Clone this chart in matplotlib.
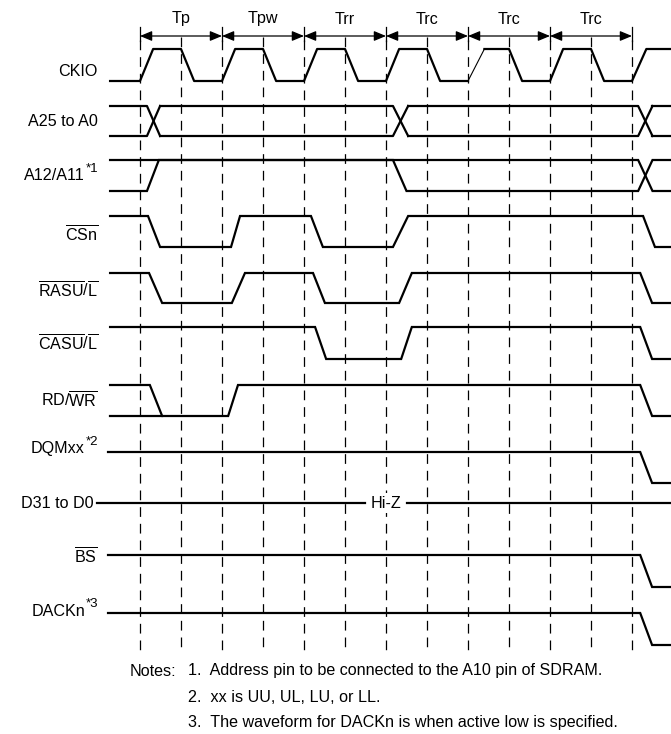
import matplotlib
matplotlib.use("Agg")
import matplotlib.pyplot as plt

plt.rcParams['font.family'] = ['Liberation Sans', 'DejaVu Sans']
plt.rcParams['mathtext.fontset'] = 'custom'
plt.rcParams['mathtext.rm'] = 'Liberation Sans'
plt.rcParams['mathtext.it'] = 'Liberation Sans:italic'
plt.rcParams['mathtext.bf'] = 'Liberation Sans:bold'
plt.rcParams['lines.scale_dashes'] = False

# ---- data: times in half clock cycles from the first rising edge ----
# cycle names and the half-cycle boundaries they span
cycle_names = ['Tp', 'Tpw', 'Trr', 'Trc', 'Trc', 'Trc']
cycle_bounds = [0, 2, 4, 6, 8, 10, 12]

# clock edges (start of each edge); edge 8 is drawn thin in the original
ckio_edges = [0, 1, 2, 3, 4, 5, 6, 7, 8, 9, 10, 11, 12]
ckio_edge_len = [0.32, 0.32, 0.32, 0.32, 0.32, 0.32, 0.32, 0.32, 0.4, 0.32, 0.32, 0.32, 0.35]
ckio_thin_edge = 8

# address bus changes (start, end)
addr_changes = [(0.17, 0.49), (6.17, 6.54), (12.15, 12.5)]

# single waveforms: list of (t, level), level 1 = high, 0 = low
t_start = -0.73
t_end = 13.1
a12_top = [(t_start, 1), (12.15, 1), (12.5, 0), (t_end, 0)]
a12_bot = [(t_start, 0), (0.17, 0), (0.46, 1), (6.17, 1), (6.5, 0), (12.15, 0), (12.5, 1), (t_end, 1)]
csn = [(t_start, 1), (0.195, 1), (0.49, 0), (2.22, 0), (2.44, 1), (4.17, 1), (4.46, 0),
       (6.17, 0), (6.54, 1), (12.27, 1), (12.56, 0), (t_end, 0)]
rasu = [(t_start, 1), (0.22, 1), (0.54, 0), (2.24, 0), (2.56, 1), (4.22, 1), (4.51, 0),
        (6.32, 0), (6.63, 1), (12.2, 1), (12.49, 0), (t_end, 0)]
casu = [(t_start, 1), (4.27, 1), (4.54, 0), (6.37, 0), (6.63, 1), (12.2, 1), (12.49, 0), (t_end, 0)]
rdwr_top = [(t_start, 1), (0.24, 1), (0.54, 0), (2.15, 0), (2.39, 1), (12.2, 1), (12.49, 0), (t_end, 0)]
rdwr_bot = [(t_start, 0), (0.54, 0)]
dqm = [(-0.78, 1), (12.2, 1), (12.49, 0), (t_end, 0)]
bs = [(-0.78, 1), (12.2, 1), (12.49, 0), (t_end, 0)]
dack = [(-0.78, 1), (12.2, 1), (12.49, 0), (t_end, 0)]
data_start = -1.05
hiz_gap = (5.49, 6.51)

labels = ['CKIO', 'A25 to A0', 'A12/A11', r'$\overline{\mathrm{CSn}}$',
          r'$\overline{\mathrm{RASU}}$/$\overline{\mathrm{L}}$',
          r'$\overline{\mathrm{CASU}}$/$\overline{\mathrm{L}}$',
          r'RD/$\overline{\mathrm{WR}}$', 'DQMxx', 'D31 to D0',
          r'$\overline{\mathrm{BS}}$', 'DACKn']
label_sups = ['', '', '*1', '', '', '', '', '*2', '', '', '*3']

notes = ['1.  Address pin to be connected to the A10 pin of SDRAM.',
         '2.  xx is UU, UL, LU, or LL.',
         '3.  The waveform for DACKn is when active low is specified.']

# ---- layout (pixels) ----
W, H = 671, 734
X0, HALF = 140, 41
rows_hi = [49, 106, 160, 216, 273, 327, 385, 452, 503, 555, 613]
rows_lo = [81, 136, 191, 247, 303, 359, 416, 483, 503, 587, 645]
label_y = [72, 121, 176, 234, 290, 343, 400, 449, 504, 556, 611]
LW = 1.6
FS = 11.6
FS_SUP = 9.5


def tx(px):
    return (px - X0) / HALF


fig = plt.figure(figsize=(W / 100, H / 100), dpi=100)
ax = fig.add_axes([0, 0, 1, 1])
ax.set_xlim(tx(0), tx(W))
ax.set_ylim(H, 0)
ax.axis('off')
renderer = fig.canvas.get_renderer()


def draw_wave(points, row, lw=LW):
    hi, lo = rows_hi[row], rows_lo[row]
    xs = [p[0] for p in points]
    ys = [hi if p[1] else lo for p in points]
    ax.plot(xs, ys, color='black', lw=lw, solid_joinstyle='miter', zorder=3)


# clock
hi, lo = rows_hi[0], rows_lo[0]
xs, ys = [t_start], [lo]
level = 0
for e, d in zip(ckio_edges, ckio_edge_len):
    nxt = 1 - level
    if e == ckio_thin_edge:
        ax.plot(xs + [e], ys + [ys[-1]], color='black', lw=LW, zorder=3)
        ax.plot([e, e + d], [lo if level == 0 else hi, hi if nxt else lo], color='black', lw=0.8, zorder=3)
        xs, ys = [e + d], [hi if nxt else lo]
    else:
        xs += [e, e + d]
        ys += [ys[-1], hi if nxt else lo]
    level = nxt
xs.append(t_end)
ys.append(ys[-1])
ax.plot(xs, ys, color='black', lw=LW, zorder=3)

# address bus
hi, lo = rows_hi[1], rows_lo[1]
prev = t_start
for a, b in addr_changes:
    ax.plot([prev, a, b], [hi, hi, lo], color='black', lw=LW, zorder=3)
    ax.plot([prev, a, b], [lo, lo, hi], color='black', lw=LW, zorder=3)
    prev = b
ax.plot([prev, t_end], [hi, hi], color='black', lw=LW, zorder=3)
ax.plot([prev, t_end], [lo, lo], color='black', lw=LW, zorder=3)

draw_wave(a12_top, 2)
draw_wave(a12_bot, 2)
draw_wave(csn, 3)
draw_wave(rasu, 4)
draw_wave(casu, 5)
draw_wave(rdwr_top, 6)
draw_wave(rdwr_bot, 6)
draw_wave(dqm, 7)
draw_wave(bs, 9)
draw_wave(dack, 10)

# data bus, Hi-Z
yd = rows_hi[8]
ax.plot([data_start, hiz_gap[0]], [yd, yd], color='black', lw=LW, zorder=3)
ax.plot([hiz_gap[1], t_end], [yd, yd], color='black', lw=LW, zorder=3)
ax.text(sum(hiz_gap) / 2, yd, 'Hi-Z', ha='center', va='center', fontsize=FS,
        bbox=dict(facecolor='white', edgecolor='none', pad=1.5), zorder=4)

# dashed guide lines
for k in range(13):
    top = 40 if k % 2 == 0 else 37
    ax.plot([k, k], [top, 650], color='black', lw=0.9, dashes=(7, 5), zorder=2)

# cycle arrows
for k in cycle_bounds:
    ax.plot([k, k], [27, 41], color='black', lw=0.9, zorder=3)
for name, a, b in zip(cycle_names, cycle_bounds[:-1], cycle_bounds[1:]):
    ax.annotate('', xy=(b, 36), xytext=(a, 36),
                arrowprops=dict(arrowstyle='<|-|>,head_length=0.6,head_width=0.25',
                                mutation_scale=12, color='black', lw=0.9,
                                shrinkA=0, shrinkB=0))
    ax.text((a + b) / 2, 19, name, ha='center', va='center', fontsize=FS)

# signal labels, superscripts drawn as separate smaller text
for i, (lab, sup, y) in enumerate(zip(labels, label_sups, label_y)):
    xr = 94 if i == 8 else 98
    if sup:
        st = ax.text(tx(xr), y - 7, sup, ha='right', va='center', fontsize=FS_SUP)
        xr -= st.get_window_extent(renderer).width + 0.5
    ax.text(tx(xr), y, lab, ha='right', va='center', fontsize=FS)

# notes
ax.text(tx(130), 671, 'Notes:', ha='left', va='center', fontsize=FS)
for i, n in enumerate(notes):
    ax.text(tx(188), 671 + 26 * i, n, ha='left', va='center', fontsize=FS)

fig.savefig('out.png', dpi=100)
